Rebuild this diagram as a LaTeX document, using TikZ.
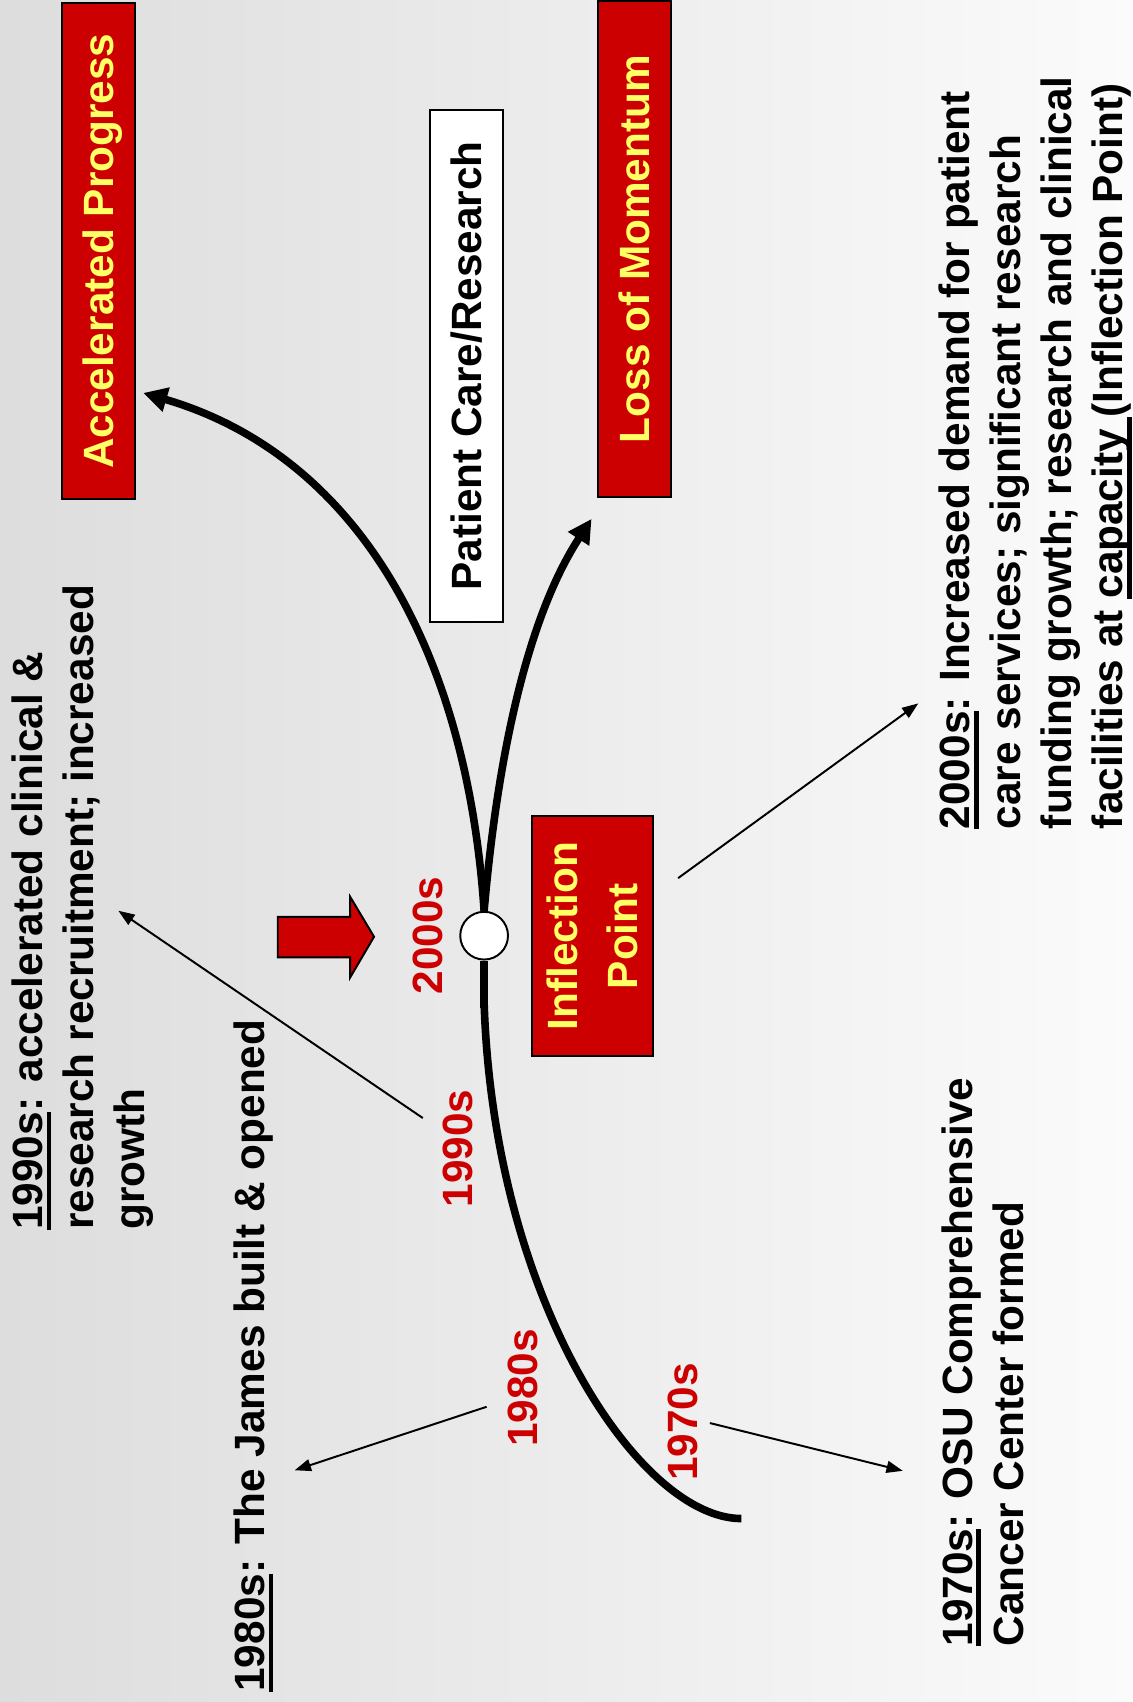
\documentclass[tikz,border=0pt]{standalone}
\usepackage{fontspec}
\setmainfont{Liberation Sans}
\usetikzlibrary{arrows.meta}
\definecolor{ored}{RGB}{204,0,0}
\definecolor{oyel}{RGB}{255,255,102}
\definecolor{bgl}{RGB}{221,221,221}
\definecolor{bgr}{RGB}{251,251,251}
\newcommand\ulx[1]{\setbox0=\hbox{#1}\rlap{\rule[-8pt]{\wd0}{4pt}}\box0}
\begin{document}
\begin{tikzpicture}[x=1pt,y=-1pt,
  bigfont/.style={font=\bfseries\fontsize{39}{47}\selectfont},
  box/.style={draw=black, line width=1.8pt, rotate=90, inner sep=0pt, bigfont},
  redbox/.style={box, fill=ored, text=oyel},
  oneline/.style={text height=28pt, text depth=0pt},
  year/.style={rotate=90, inner sep=0pt, bigfont, text=ored},
  para/.style={rotate=90, inner sep=0pt, bigfont, align=left, anchor=north west, text=black},
  trunk/.style={line width=7pt, draw=black},
  bigtip/.style={-{Triangle[length=22pt,width=22pt]}},
  conn/.style={line width=1.8pt, draw=black, -{Triangle[length=15pt,width=11pt]}},
]
\useasboundingbox (0,0) rectangle (1043,1568);
\shade[left color=bgl, right color=bgr] (0,0) rectangle (1043,1568);

% boxes
\node[redbox, oneline, minimum width=457pt, minimum height=67pt] (acc) at (90.5,231.5) {Accelerated Progress};
\node[box, oneline, fill=white, minimum width=472pt, minimum height=67pt] (pcr) at (429.5,337) {Patient Care/Research};
\node[redbox, oneline, minimum width=457pt, minimum height=67pt] (lom) at (584.5,229.5) {Loss of Momentum};
\node[redbox, align=center, font=\bfseries\fontsize{39}{55}\selectfont, minimum width=221pt, minimum height=112pt] (inf) at (546,862.5) {Inflection\\Point};

% inflection point circle
\node[circle, draw=black, line width=1.8pt, fill=white, minimum size=44pt, inner sep=0pt] (pt) at (446,862) {};

% curve
\coordinate (c0) at (683,1399);
\coordinate (g1) at (446,924);
\coordinate (g2) at (446,929);
\coordinate (accTip) at (132,362);
\coordinate (lomTip) at (545,478);
\draw[trunk] (c0) .. controls (590,1399) and (455,1200) .. (g1);
\draw[trunk] (g2) -- (pt.south);
\draw[trunk, bigtip] (pt.north) .. controls (430,600) and (330,420) .. (accTip);
\draw[trunk, bigtip] (pt.north) .. controls (458,700) and (485,570) .. (lomTip);

% big red arrow
\draw[fill=ored, line width=1.8pt, line join=miter] (255.9,844.6) -- (322.6,844.6) -- (322.6,826.2) -- (344.6,863) -- (322.6,900.5) -- (322.6,882) -- (255.9,882) -- cycle;

% year labels
\node[year] (y00) at (394,862) {2000s};
\node[year] (y90) at (422,1058) {1990s};
\node[year] (y80) at (482,1278.5) {1980s};
\node[year] (y70) at (629.5,1310) {1970s};

% paragraphs
\node[para] (t90) at (10.8,1133) {\ulx{1990s}: accelerated clinical \&\\research recruitment; increased\\growth};
\node[para] (t80) at (215,1558.6) {\ulx{1980s}: The James built \& opened};
\node[para] (t70) at (867,1517) {\ulx{1970s}: OSU Comprehensive\\Cancer Center formed};
\node[para] (t00) at (865,764) {\ulx{2000s}: Increased demand for patient\\care services; significant research\\funding growth; research and clinical\\facilities at \ulx{capacity\ }(Inflection Point)};

% connectors
\coordinate (a90) at (389.5,1030); \coordinate (b90) at (109,839);
\coordinate (a80) at (448.3,1296); \coordinate (b80) at (271.5,1354.5);
\coordinate (a70) at (654,1311); \coordinate (b70) at (831.7,1355);
\coordinate (a00) at (624.7,809); \coordinate (b00) at (846,648);
\draw[conn] (a90) -- (b90);
\draw[conn] (a80) -- (b80);
\draw[conn] (a70) -- (b70);
\draw[conn] (a00) -- (b00);
\end{tikzpicture}
\end{document}
